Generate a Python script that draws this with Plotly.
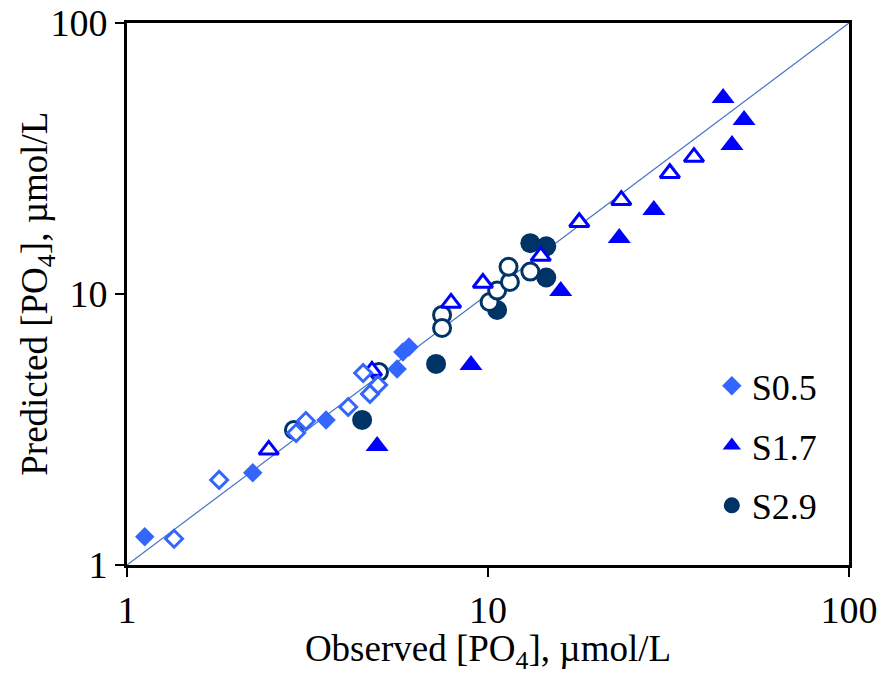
import plotly.graph_objects as go

# Observed vs. predicted phosphate concentrations (µmol/L)
# Filled markers / open markers are two sub-sets of each salinity series.

s05_filled_obs = [1.12, 2.23, 3.56, 5.60, 5.81, 6.04]
s05_filled_pred = [1.27, 2.19, 3.43, 5.29, 6.11, 6.37]
s05_open_obs = [1.35, 1.80, 2.94, 3.13, 4.10, 4.51, 4.71, 4.96]
s05_open_pred = [1.25, 2.06, 3.07, 3.40, 3.83, 5.11, 4.28, 4.62]

s17_filled_obs = [4.93, 8.97, 15.9, 23.1, 28.8, 44.8, 51.2, 47.4]
s17_filled_pred = [2.75, 5.47, 10.26, 16.1, 20.4, 52.9, 43.9, 35.5]
s17_open_obs = [2.47, 4.77, 7.90, 9.68, 14.0, 17.9, 23.4, 31.9, 37.2]
s17_open_pred = [2.66, 5.20, 9.27, 10.98, 13.8, 18.4, 22.2, 27.9, 32.0]

s29_filled_obs = [4.48, 7.18, 10.6, 13.1, 14.5, 14.5]
s29_filled_pred = [3.43, 5.52, 8.73, 15.4, 15.0, 11.5]
s29_open_obs = [2.90, 4.99, 7.46, 7.46, 10.1, 10.6, 11.5, 11.4, 13.1]
s29_open_pred = [3.15, 5.15, 8.37, 7.49, 9.34, 10.3, 11.07, 12.6, 12.1]

one_to_one = [1, 100]
tick_vals = [1, 10, 100]
tick_text = ["1", "10", "100"]

C05 = "#3366FF"
C17 = "#0000FF"
C29 = "#003366"
FONT = "Liberation Serif"

fig = go.Figure()

# 1:1 line
fig.add_trace(go.Scatter(x=one_to_one, y=one_to_one, mode="lines",
                         line=dict(color="#4472C4", width=1.2),
                         showlegend=False, hoverinfo="skip"))


def add_series(name, obs_f, pred_f, obs_o, pred_o, symbol, size, open_size,
               color, rank):
    fig.add_trace(go.Scatter(
        x=obs_f, y=pred_f, mode="markers", name=name,
        legendgroup=name, legendrank=rank,
        marker=dict(symbol=symbol, size=size, color=color,
                    line=dict(width=0))))
    fig.add_trace(go.Scatter(
        x=obs_o, y=pred_o, mode="markers", name=name + " open",
        legendgroup=name, showlegend=False,
        marker=dict(symbol=symbol, size=open_size, color="white",
                    line=dict(width=3, color=color))))


# drawing order: circles at the bottom, diamonds on top
add_series("S2.9", s29_filled_obs, s29_filled_pred, s29_open_obs, s29_open_pred,
           "circle", 20, 17, C29, 3)
add_series("S1.7", s17_filled_obs, s17_filled_pred, s17_open_obs, s17_open_pred,
           "triangle-up", 20, 17, C17, 2)
add_series("S0.5", s05_filled_obs, s05_filled_pred, s05_open_obs, s05_open_pred,
           "diamond", 15, 13, C05, 1)

axis_common = dict(
    type="log", range=[0, 2], tickvals=tick_vals, ticktext=tick_text,
    showgrid=False, zeroline=False, showline=True, mirror=True,
    linecolor="black", linewidth=3, ticks="outside", ticklen=9,
    tickwidth=2, tickcolor="black", automargin=False,
    tickfont=dict(family=FONT, size=38, color="black"),
)

fig.update_layout(
    width=881, height=675,
    margin=dict(l=127, r=32, t=23, b=110),
    paper_bgcolor="white", plot_bgcolor="white",
    font=dict(family=FONT, color="black"),
    xaxis=dict(axis_common,
               title=dict(text="Observed [PO<sub>4</sub>], µmol/L",
                          font=dict(family=FONT, size=37), standoff=17)),
    yaxis=axis_common,
    legend=dict(x=0.81, y=0.386, xanchor="left", yanchor="top",
                bgcolor="rgba(0,0,0,0)", traceorder="grouped",
                tracegroupgap=10,
                font=dict(family=FONT, size=36, color="black")),
    showlegend=True,
)

# y-axis title placed closer to the tick labels
fig.add_annotation(
    text="Predicted [PO<sub>4</sub>], µmol/L", textangle=-90,
    xref="paper", yref="paper", x=-0.125, y=0.5,
    xanchor="center", yanchor="middle", showarrow=False,
    font=dict(family=FONT, size=37, color="black"),
)

fig.write_html("out.html")
